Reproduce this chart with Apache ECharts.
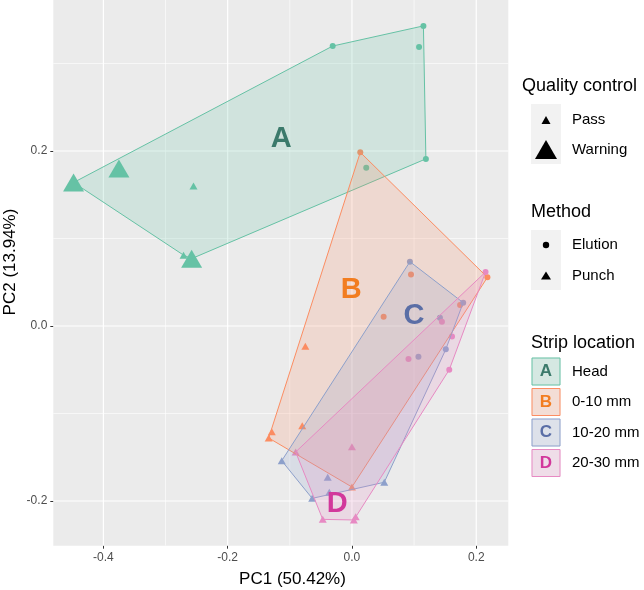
<!DOCTYPE html>
<html><head><meta charset="utf-8">
<script src="https://cdn.jsdelivr.net/npm/echarts@6/dist/echarts.min.js"></script>
<style>html,body{margin:0;padding:0;background:#fff}#c{width:644px;height:590px}</style>
</head><body><div id="c"></div>
<script>
// ---- data ----
const groups = ['A', 'B', 'C', 'D'];
const groupNames = ['Head', '0-10 mm', '10-20 mm', '20-30 mm'];
// [PC1, PC2, method, quality control]
const ptsA = [
  [-0.031, 0.320, 'Elution', 'Pass'],
  [0.115, 0.343, 'Elution', 'Pass'],
  [0.108, 0.319, 'Elution', 'Pass'],
  [0.119, 0.191, 'Elution', 'Pass'],
  [0.023, 0.181, 'Elution', 'Pass'],
  [-0.271, 0.081, 'Punch', 'Pass'],
  [-0.255, 0.160, 'Punch', 'Pass'],
  [-0.448, 0.164, 'Punch', 'Warning'],
  [-0.375, 0.180, 'Punch', 'Warning'],
  [-0.258, 0.077, 'Punch', 'Warning']
];
const ptsB = [
  [0.0134, 0.1985, 'Elution', 'Pass'],
  [0.095, 0.059, 'Elution', 'Pass'],
  [0.051, 0.0107, 'Elution', 'Pass'],
  [0.174, 0.024, 'Elution', 'Pass'],
  [0.218, 0.0556, 'Elution', 'Pass'],
  [-0.075, -0.023, 'Punch', 'Pass'],
  [-0.080, -0.114, 'Punch', 'Pass'],
  [-0.129, -0.121, 'Punch', 'Pass'],
  [-0.134, -0.128, 'Punch', 'Pass'],
  [0.0, -0.184, 'Punch', 'Pass']
];
const ptsC = [
  [0.0933, 0.0735, 'Elution', 'Pass'],
  [0.179, 0.0267, 'Elution', 'Pass'],
  [0.1416, 0.0095, 'Elution', 'Pass'],
  [0.107, -0.035, 'Elution', 'Pass'],
  [0.151, -0.0267, 'Elution', 'Pass'],
  [-0.113, -0.154, 'Punch', 'Pass'],
  [-0.039, -0.173, 'Punch', 'Pass'],
  [-0.0365, -0.190, 'Punch', 'Pass'],
  [-0.064, -0.197, 'Punch', 'Pass'],
  [0.052, -0.1786, 'Punch', 'Pass']
];
const ptsD = [
  [0.215, 0.0617, 'Elution', 'Pass'],
  [0.1448, 0.005, 'Elution', 'Pass'],
  [0.161, -0.012, 'Elution', 'Pass'],
  [0.091, -0.0377, 'Elution', 'Pass'],
  [0.1566, -0.050, 'Elution', 'Pass'],
  [0.0, -0.138, 'Punch', 'Pass'],
  [-0.0906, -0.144, 'Punch', 'Pass'],
  [-0.047, -0.221, 'Punch', 'Pass'],
  [0.003, -0.2217, 'Punch', 'Pass'],
  [0.006, -0.218, 'Punch', 'Pass']
];
const groupPoints = [ptsA, ptsB, ptsC, ptsD];
const labelPos = [[-0.114, 0.2137], [-0.0013, 0.0417], [0.100, 0.0117], [-0.0238, -0.204]];
const xRange = [-0.4806, 0.2516];
const yRange = [-0.2511, 0.3726];
const xTicks = [-0.4, -0.2, 0, 0.2];
const xMinor = [-0.3, -0.1, 0.1];
const yTicks = [-0.2, 0, 0.2];
const yMinor = [-0.1, 0.1, 0.3];
const xTitle = 'PC1 (50.42%)';
const yTitle = 'PC2 (13.94%)';
const qcLevels = ['Pass', 'Warning'];
const methodLevels = ['Elution', 'Punch'];

// ---- styles ----
const FONT = "'Liberation Sans', Arial, Helvetica, sans-serif";
const colors = ['#66c2a5', '#fc8d62', '#8da0cb', '#e78ac3'];
const labelColors = ['#3b7a6b', '#f27d20', '#5a6ea6', '#d2389b'];
function rgba(hex, a) {
  const n = parseInt(hex.slice(1), 16);
  return 'rgba(' + ((n >> 16) & 255) + ',' + ((n >> 8) & 255) + ',' + (n & 255) + ',' + a + ')';
}
function convexHull(p) {
  const pts = p.slice().sort((a, b) => a[0] - b[0] || a[1] - b[1]);
  const cross = (o, a, b) => (a[0] - o[0]) * (b[1] - o[1]) - (a[1] - o[1]) * (b[0] - o[0]);
  const lower = [];
  for (const q of pts) { while (lower.length >= 2 && cross(lower[lower.length - 2], lower[lower.length - 1], q) <= 0) lower.pop(); lower.push(q); }
  const upper = [];
  for (let i = pts.length - 1; i >= 0; i--) { const q = pts[i]; while (upper.length >= 2 && cross(upper[upper.length - 2], upper[upper.length - 1], q) <= 0) upper.pop(); upper.push(q); }
  upper.pop(); lower.pop();
  return lower.concat(upper);
}

const chart = echarts.init(document.getElementById('c'), null, { renderer: 'canvas' });

const gridData = [];
xTicks.forEach(v => gridData.push({ value: [v, 0, 0, 1] }));
xMinor.forEach(v => gridData.push({ value: [v, 0, 0, 0] }));
yTicks.forEach(v => gridData.push({ value: [0, v, 1, 1] }));
yMinor.forEach(v => gridData.push({ value: [0, v, 1, 0] }));

const series = [];
series.push({
  type: 'custom', z: 1, silent: true, clip: true,
  data: gridData,
  renderItem: function (params, api) {
    const cs = params.coordSys;
    const p = api.coord([api.value(0), api.value(1)]);
    const w = api.value(3) ? 1.2 : 0.6;
    const shape = api.value(2) === 0
      ? { x1: p[0], y1: cs.y, x2: p[0], y2: cs.y + cs.height }
      : { x1: cs.x, y1: p[1], x2: cs.x + cs.width, y2: p[1] };
    return { type: 'line', shape: shape, style: { stroke: '#ffffff', lineWidth: w } };
  }
});

groupPoints.forEach((pts, gi) => {
  series.push({
    type: 'scatter', z: 3, silent: true,
    itemStyle: { color: colors[gi], opacity: 1 },
    data: pts.map(p => ({
      value: [p[0], p[1]],
      symbol: p[2] === 'Elution' ? 'circle' : 'triangle',
      symbolSize: p[2] === 'Elution' ? 6 : (p[3] === 'Warning' ? [21, 18] : [8, 7])
    }))
  });
});

series.push({
  type: 'custom', z: 4, silent: true,
  data: groups.map((g, i) => ({ value: [labelPos[i][0], labelPos[i][1], i] })),
  renderItem: function (params, api) {
    const gi = api.value(2);
    const pix = groupPoints[gi].map(p => api.coord([p[0], p[1]]));
    return {
      type: 'polygon', shape: { points: convexHull(pix) },
      style: { fill: rgba(colors[gi], 0.2), stroke: colors[gi], lineWidth: 1 }
    };
  }
});

series.push({
  type: 'custom', z: 5, silent: true,
  data: groups.map((g, i) => ({ value: [labelPos[i][0], labelPos[i][1], i] })),
  renderItem: function (params, api) {
    const gi = api.value(2);
    const p = api.coord([api.value(0), api.value(1)]);
    return {
      type: 'text', x: p[0], y: p[1],
      style: { text: groups[gi], font: 'bold 29px ' + FONT, fill: labelColors[gi], align: 'center', verticalAlign: 'middle' }
    };
  }
});

// ---- legend (graphic) ----
const g = [];
function txt(x, y, s, size, extra) {
  g.push(Object.assign({ type: 'text', x: x, y: y, silent: true,
    style: { text: s, font: size + 'px ' + FONT, fill: '#000', align: 'left', verticalAlign: 'middle' } }, extra || {}));
}
function tri(cx, cy, w, h, fill) {
  g.push({ type: 'polygon', silent: true, shape: { points: [[cx, cy - h / 2], [cx + w / 2, cy + h / 2], [cx - w / 2, cy + h / 2]] }, style: { fill: fill } });
}
// axis titles
g.push({ type: 'text', x: 292.5, y: 579, silent: true, style: { text: xTitle, font: '17px ' + FONT, fill: '#000', align: 'center', verticalAlign: 'middle' } });
g.push({ type: 'text', x: 10, y: 262, rotation: Math.PI / 2, silent: true, style: { text: yTitle, font: '17px ' + FONT, fill: '#000', align: 'center', verticalAlign: 'middle' } });

// Quality control
txt(522, 86.5, 'Quality control', 18);
g.push({ type: 'rect', silent: true, shape: { x: 531, y: 104, width: 30, height: 60 }, style: { fill: '#f2f2f2' } });
tri(546, 120, 9, 8, '#000');
tri(546, 149.5, 22, 19, '#000');
txt(572, 120, qcLevels[0], 15);
txt(572, 149.5, qcLevels[1], 15);

// Method
txt(531, 212, 'Method', 18);
g.push({ type: 'rect', silent: true, shape: { x: 531, y: 230, width: 30, height: 60 }, style: { fill: '#f2f2f2' } });
g.push({ type: 'circle', silent: true, shape: { cx: 546, cy: 245, r: 3.2 }, style: { fill: '#000' } });
tri(546, 275.5, 10, 8, '#000');
txt(572, 245, methodLevels[0], 15);
txt(572, 275.5, methodLevels[1], 15);

// Strip location
txt(531, 343, 'Strip location', 18);
const boxTops = [357.5, 388, 418.5, 449];
groups.forEach((gr, i) => {
  g.push({ type: 'rect', silent: true, shape: { x: 531.5, y: boxTops[i], width: 29, height: 28 }, style: { fill: '#f2f2f2' } });
  g.push({ type: 'rect', silent: true, shape: { x: 532, y: boxTops[i] + 0.5, width: 28, height: 27 }, style: { fill: rgba(colors[i], 0.2), stroke: colors[i], lineWidth: 1 } });
  g.push({ type: 'text', x: 546, y: boxTops[i] + 14, silent: true, style: { text: gr, font: 'bold 17px ' + FONT, fill: labelColors[i], align: 'center', verticalAlign: 'middle' } });
  txt(572, boxTops[i] + 14, groupNames[i], 15);
});

const option = {
  animation: false,
  backgroundColor: '#ffffff',
  grid: { left: 53.3, top: 0, width: 455, height: 545.7, show: true, backgroundColor: '#ebebeb', borderWidth: 0 },
  xAxis: {
    type: 'value', min: xRange[0], max: xRange[1],
    axisLine: { show: false, onZero: false },
    axisTick: { show: true, length: 3, customValues: xTicks, lineStyle: { color: '#333', width: 1 } },
    axisLabel: { customValues: xTicks, margin: 6, color: '#4d4d4d', fontSize: 12, fontFamily: FONT, formatter: v => v.toFixed(1) },
    splitLine: { show: false }
  },
  yAxis: {
    type: 'value', min: yRange[0], max: yRange[1],
    axisLine: { show: false, onZero: false },
    axisTick: { show: true, length: 3, customValues: yTicks, lineStyle: { color: '#333', width: 1 } },
    axisLabel: { customValues: yTicks, margin: 6, color: '#4d4d4d', fontSize: 12, fontFamily: FONT, formatter: v => v.toFixed(1) },
    splitLine: { show: false }
  },
  series: series,
  graphic: g
};
chart.setOption(option);
</script>
</body></html>
